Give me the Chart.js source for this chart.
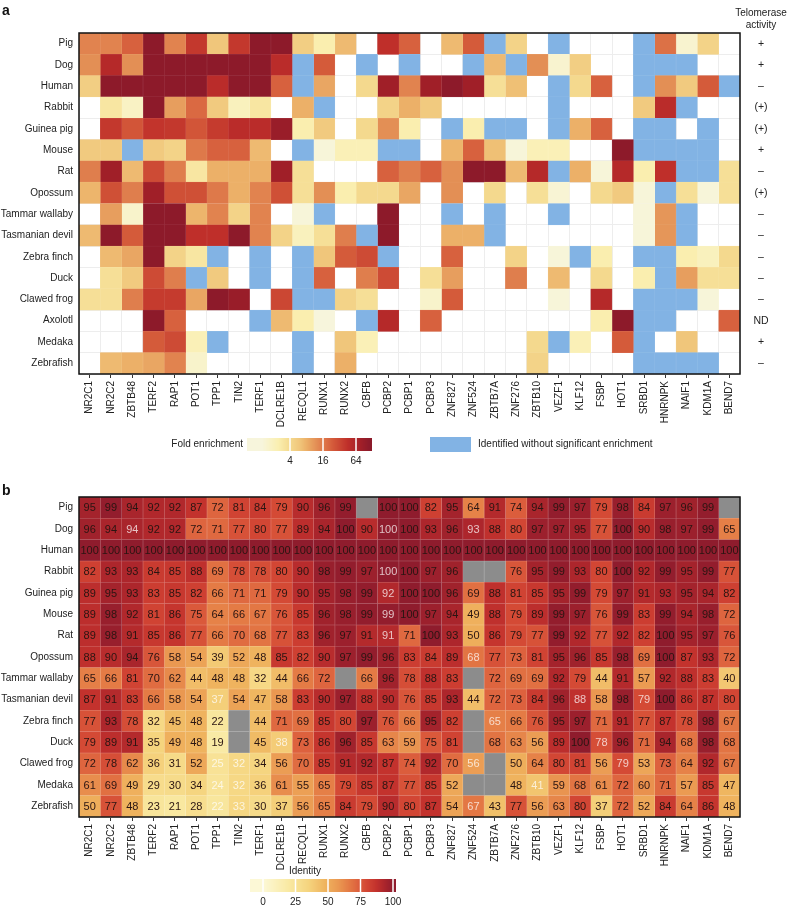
<!DOCTYPE html>
<html><head><meta charset="utf-8">
<script src="https://cdn.jsdelivr.net/npm/chart.js@4.4.1/dist/chart.umd.min.js"></script>
<style>
html,body{margin:0;padding:0;background:#fff;}
#wrap{position:relative;width:788px;height:910px;}
canvas{position:absolute;left:0;}
</style></head><body>
<div id="wrap">
<canvas id="ca" width="788" height="480" style="top:0px"></canvas>
<canvas id="cb" width="788" height="430" style="top:480px"></canvas>
</div>
<script>
// ---------- categories ----------
const proteins = ['NR2C1','NR2C2','ZBTB48','TERF2','RAP1','POT1','TPP1','TIN2','TERF1','DCLRE1B','RECQL1','RUNX1','RUNX2','CBFB','PCBP2','PCBP1','PCBP3','ZNF827','ZNF524','ZBTB7A','ZNF276','ZBTB10','VEZF1','KLF12','FSBP','HOT1','SRBD1','HNRNPK','NAIF1','KDM1A','BEND7'];
const speciesA = ['Pig','Dog','Human','Rabbit','Guinea pig','Mouse','Rat','Opossum','Tammar wallaby','Tasmanian devil','Zebra finch','Duck','Clawed frog','Axolotl','Medaka','Zebrafish'];
const speciesB = ['Pig','Dog','Human','Rabbit','Guinea pig','Mouse','Rat','Opossum','Tammar wallaby','Tasmanian devil','Zebra finch','Duck','Clawed frog','Medaka','Zebrafish'];
const telomeraseActivity = ['+','+','–','(+)','(+)','+','–','(+)','–','–','–','–','–','ND','+','–'];
const foldTicks = [4, 16, 64];
const identityTicks = [0, 25, 50, 75, 100];

// ---------- panel a: fold enrichment (null = not identified, 'ns' = identified without significant enrichment) ----------
const ns = 'ns';
const foldPig        = [14,14,22,110,14,40,6,40,110,110,5,2.5,7,null,45,22,null,7,24,ns,4.5,null,ns,null,null,null,ns,18,1.5,4.5,null];
const foldDog        = [12,55,12,110,110,110,110,110,110,50,ns,24,null,ns,null,ns,null,null,ns,7,ns,12,1.5,5,null,null,ns,ns,ns,null,null];
const foldHuman      = [5,110,110,110,110,110,50,110,110,22,ns,9,null,4,80,14,80,110,80,3.5,6.5,null,ns,4,22,null,ns,12,5.5,24,ns];
const foldRabbit     = [null,3,1.8,110,10,20,5.5,2,3,null,8,ns,null,null,4.5,8,5.5,null,null,null,null,null,ns,null,null,null,5.5,50,ns,null,null];
const foldGuineaPig  = [null,40,26,42,40,26,38,50,50,90,2.5,5.5,null,4,12,2.5,null,ns,2.5,ns,ns,null,ns,8,22,null,ns,ns,null,ns,null];
const foldMouse      = [5.5,5.5,ns,5.5,4.5,16,22,22,7,null,ns,1.3,2.2,2.2,ns,ns,null,7.5,22,6.5,1.3,2.2,2.2,null,null,110,ns,ns,ns,ns,null];
const foldRat        = [15,80,7,30,15,3,8,8,8,80,3.5,null,null,null,22,15,22,12,110,110,7,55,ns,8,1.3,55,2.5,45,ns,ns,3.5];
const foldOpossum    = [7.5,28,15,80,28,28,16,8,14,28,3.5,12,2.5,4,4,9,null,12,null,4,null,3.5,1.4,null,4,5.5,1.3,ns,3.5,1.3,3.5];
const foldTammar     = [null,10,1.6,110,110,7.5,14,4.5,14,null,1.3,ns,null,null,110,null,null,ns,null,ns,null,null,ns,null,null,null,1.3,11,ns,null,null];
const foldTasmanian  = [7,110,24,110,110,45,45,110,14,4.5,2,3.5,15,ns,110,null,null,8,8,ns,null,null,null,null,null,null,1.3,11,ns,null,null];
const foldZebraFinch = [null,7,9,110,4.5,3,ns,null,ns,null,ns,6,24,30,ns,null,null,22,null,null,4.5,null,1.3,ns,2.5,null,ns,ns,2.5,2,4];
const foldDuck       = [null,3.5,5.5,30,15,ns,5.5,null,ns,null,ns,22,null,15,30,null,3.5,10,null,null,15,null,7,null,4,null,2.5,ns,10,3.5,3.5];
const foldClawedFrog = [3.5,3.5,15,38,38,9,110,90,null,32,ns,ns,4.5,3.5,null,null,1.6,24,null,null,null,null,1.3,null,55,null,ns,ns,ns,1.3,null];
const foldAxolotl    = [null,null,null,110,22,null,null,null,ns,7,2.5,1.2,null,ns,55,null,22,null,null,null,null,null,null,null,2.5,110,ns,ns,null,null,22];
const foldMedaka     = [null,null,null,24,30,2.2,ns,null,null,null,ns,null,6,2.2,null,null,null,null,null,null,null,4,ns,2.2,null,24,ns,null,6,null,null];
const foldZebrafish  = [null,7,8,9,14,1.6,null,null,null,null,ns,null,8,null,null,null,null,null,null,null,null,4.5,null,null,null,null,ns,ns,ns,ns,null];

// ---------- panel b: identity (%), null = not available ----------
const idPig        = [95,99,94,92,92,87,72,81,84,79,90,96,99,null,100,100,82,95,64,91,74,94,99,97,79,98,84,97,96,99,null];
const idDog        = [96,94,94,92,92,72,71,77,80,77,89,94,100,90,100,100,93,96,93,88,80,97,97,95,77,100,90,98,97,99,65];
const idHuman      = [100,100,100,100,100,100,100,100,100,100,100,100,100,100,100,100,100,100,100,100,100,100,100,100,100,100,100,100,100,100,100];
const idRabbit     = [82,93,93,84,85,88,69,78,78,80,90,98,99,97,100,100,97,96,null,null,76,95,99,93,80,100,92,99,95,99,77];
const idGuineaPig  = [89,95,93,83,85,82,66,71,71,79,90,95,98,99,92,100,100,96,69,88,81,85,95,99,79,97,91,93,95,94,82];
const idMouse      = [89,98,92,81,86,75,64,66,67,76,85,96,98,99,99,100,97,94,49,88,79,89,99,97,76,99,83,99,94,98,72];
const idRat        = [89,98,91,85,86,77,66,70,68,77,83,96,97,91,91,71,100,93,50,86,79,77,99,92,77,92,82,100,95,97,76];
const idOpossum    = [88,90,94,76,58,54,39,52,48,85,82,90,97,99,96,83,84,89,68,77,73,81,95,96,85,98,69,100,87,93,72];
const idTammar     = [65,66,81,70,62,44,48,48,32,44,66,72,null,66,96,78,88,83,null,72,69,69,92,79,44,91,57,92,88,83,40];
const idTasmanian  = [87,91,83,66,58,54,37,54,47,58,83,90,97,88,90,76,85,93,44,72,73,84,96,88,58,98,79,100,86,87,80];
const idZebraFinch = [77,93,78,32,45,48,22,null,44,71,69,85,80,97,76,66,95,82,null,65,66,76,95,97,71,91,77,87,78,98,67];
const idDuck       = [79,89,91,35,49,48,19,null,45,38,73,86,96,85,63,59,75,81,null,68,63,56,89,100,78,96,71,94,68,98,68];
const idClawedFrog = [72,78,62,36,31,52,25,32,34,56,70,85,91,92,87,74,92,70,56,null,50,64,80,81,56,79,53,73,64,92,67];
const idMedaka     = [61,69,49,29,30,34,24,32,36,61,55,65,79,85,87,77,85,52,null,null,48,41,59,68,61,72,60,71,57,85,47];
const idZebrafish  = [50,77,48,23,21,28,22,33,30,37,56,65,84,79,90,80,87,54,67,43,77,56,63,80,37,72,52,84,64,86,48];

// cells whose number is printed in light type
const lightText = [['Dog','ZBTB48'],['Dog','PCBP2'],['Dog','ZNF524'],['Rabbit','PCBP2'],['Guinea pig','PCBP2'],['Mouse','PCBP2'],['Rat','PCBP2'],['Opossum','ZNF524'],['Tasmanian devil','TPP1'],['Tasmanian devil','KLF12'],['Tasmanian devil','SRBD1'],['Zebra finch','ZBTB7A'],['Duck','DCLRE1B'],['Duck','FSBP'],['Clawed frog','TPP1'],['Clawed frog','TIN2'],['Clawed frog','ZNF524'],['Clawed frog','HOT1'],['Medaka','TPP1'],['Medaka','TIN2'],['Medaka','ZBTB10'],['Zebrafish','TPP1'],['Zebrafish','TIN2'],['Zebrafish','ZNF524']];

const foldRows = [foldPig,foldDog,foldHuman,foldRabbit,foldGuineaPig,foldMouse,foldRat,foldOpossum,foldTammar,foldTasmanian,foldZebraFinch,foldDuck,foldClawedFrog,foldAxolotl,foldMedaka,foldZebrafish];
const idRows = [idPig,idDog,idHuman,idRabbit,idGuineaPig,idMouse,idRat,idOpossum,idTammar,idTasmanian,idZebraFinch,idDuck,idClawedFrog,idMedaka,idZebrafish];

// ---------- colour helpers ----------
const FONT = '"Liberation Sans", Arial, Helvetica, sans-serif';
const foldStops = [[0.3,'#f7f5dc'],[1.3,'#faefb0'],[2,'#f4d98e'],[2.6,'#f0c57a'],[3,'#ecb068'],[3.6,'#e38e55'],[4.2,'#dc6f45'],[4.6,'#d45a3a'],[5.5,'#bf2f2a'],[6.2,'#a52028'],[6.8,'#8c1a2a']];
const idStops = [[0,'#fcf8d6'],[20,'#f9e9a2'],[35,'#f5d47e'],[48,'#efb35e'],[58,'#ea9851'],[66,'#e47b45'],[72,'#de653f'],[80,'#d24634'],[87,'#c3322d'],[93,'#ad262c'],[100,'#8f1c2d']];
const BLUE = [130,179,228];
const GRAY = [140,140,140];
function hexToRgb(h){h=h.replace('#','');return [parseInt(h.substr(0,2),16),parseInt(h.substr(2,2),16),parseInt(h.substr(4,2),16)];}
function ramp(stops,t){
  if(t<=stops[0][0]) return hexToRgb(stops[0][1]);
  for(let k=1;k<stops.length;k++){
    if(t<=stops[k][0]){
      const a=hexToRgb(stops[k-1][1]), b=hexToRgb(stops[k][1]);
      const f=(t-stops[k-1][0])/(stops[k][0]-stops[k-1][0]);
      return a.map((v,i)=>Math.round(v+(b[i]-v)*f));
    }
  }
  return hexToRgb(stops[stops.length-1][1]);
}
const rgb = a => `rgb(${a[0]},${a[1]},${a[2]})`;
const lighten = (a,f) => a.map(v => Math.round(v+(255-v)*f));
const foldRgb = v => v===null ? null : (v===ns ? BLUE : ramp(foldStops, Math.log2(v)));
const idRgb = v => v===null ? GRAY : ramp(idStops, v);

Chart.defaults.font.family = FONT;
Chart.defaults.font.size = 10;
Chart.defaults.color = '#222';

// ---------- plugins ----------
const framePlugin = {
  id:'frame',
  afterDatasetsDraw(chart){
    const {ctx, chartArea:a} = chart;
    ctx.save(); ctx.lineWidth=1.5; ctx.strokeStyle='#111';
    ctx.strokeRect(a.left, a.top, a.right-a.left, a.bottom-a.top);
    ctx.restore();
  }
};
function letterPlugin(letter, y){
  return { id:'letter'+letter, afterDraw(chart){ const c=chart.ctx; c.save(); c.font='bold 14px '+FONT; c.fillStyle='#111'; c.textBaseline='alphabetic'; c.fillText(letter, 2, y); c.restore(); } };
}
const telomerasePlugin = {
  id:'telomerase',
  afterDraw(chart){
    const c=chart.ctx, ys=chart.scales.y;
    c.save(); c.fillStyle='#222'; c.textAlign='center'; c.textBaseline='middle';
    c.font='10px '+FONT;
    c.fillText('Telomerase', 761, 13);
    c.fillText('activity', 761, 25);
    c.font='10.5px '+FONT;
    telomeraseActivity.forEach((t,i)=>c.fillText(t, 761, ys.getPixelForValue(i)));
    c.restore();
  }
};
const legendAPlugin = {
  id:'legendA',
  afterDraw(chart){
    const c=chart.ctx; c.save();
    const x0=247, x1=372, y0=438, h=13;
    const px = lv => 290 + (lv-2)*16.5;
    for(let x=x0;x<x1;x++){ const lv=(x+0.5-290)/16.5+2; c.fillStyle=rgb(ramp(foldStops,lv)); c.fillRect(x,y0,1,h); }
    c.strokeStyle='#fff'; c.lineWidth=1.5;
    foldTicks.forEach(t=>{ const x=px(Math.log2(t)); c.beginPath(); c.moveTo(x,y0); c.lineTo(x,y0+h); c.stroke(); });
    c.fillStyle='#222'; c.font='10px '+FONT; c.textBaseline='middle';
    c.textAlign='center'; foldTicks.forEach(t=>c.fillText(String(t), px(Math.log2(t)), y0+h+10));
    c.textAlign='right'; c.fillText('Fold enrichment', x0-4, y0+h/2);
    c.fillStyle=rgb(BLUE); c.fillRect(430, y0-1, 41, h+2);
    c.fillStyle='#222'; c.textAlign='left'; c.fillText('Identified without significant enrichment', 478, y0+h/2);
    c.restore();
  }
};
const legendBPlugin = {
  id:'legendB',
  afterDraw(chart){
    const c=chart.ctx; c.save();
    const x0=250, x1=396, y0=399, h=13;
    const px = v => 263 + v*1.3;
    for(let x=x0;x<x1;x++){ const v=(x+0.5-263)/1.3; c.fillStyle=rgb(ramp(idStops,v)); c.fillRect(x,y0,1,h); }
    c.strokeStyle='#fff'; c.lineWidth=1.5;
    identityTicks.forEach(t=>{ const x=px(t); c.beginPath(); c.moveTo(x,y0); c.lineTo(x,y0+h); c.stroke(); });
    c.fillStyle='#222'; c.font='10px '+FONT; c.textBaseline='middle'; c.textAlign='center';
    identityTicks.forEach(t=>c.fillText(String(t), px(t), y0+h+10));
    c.fillText('Identity', 305, y0-8);
    c.restore();
  }
};
const numbersPlugin = {
  id:'numbers',
  afterDatasetsDraw(chart){
    const c=chart.ctx, xs=chart.scales.x, ys=chart.scales.y;
    c.save(); c.font='11px '+FONT; c.textAlign='center'; c.textBaseline='middle';
    idRows.forEach((row,i)=>{
      row.forEach((v,j)=>{
        if(v===null) return;
        const light = lightText.some(p=>p[0]===speciesB[i] && p[1]===proteins[j]);
        c.fillStyle = light ? 'rgba(255,255,255,0.72)' : '#2a1512';
        c.fillText(String(v), xs.getPixelForValue(j+0.5), ys.getPixelForValue(i)+0.5);
      });
    });
    c.restore();
  }
};

// ---------- heatmap builder (stacked horizontal bars, one segment per cell) ----------
function makeHeatmap(canvasId, rowLabels, rows, cellRgb, cfg, extraPlugins){
  const datasets = proteins.map((p,j)=>{
    const cols = rows.map(r=>cellRgb(r[j]));
    return {
      label:p,
      data: rowLabels.map(()=>1),
      backgroundColor: cols.map(cc=>cc?rgb(cc):'rgba(0,0,0,0)'),
      borderColor: cols.map(cc=>cc?rgb(lighten(cc,cfg.borderLighten)):'rgba(0,0,0,0)'),
      borderWidth: cols.map(cc=>cc?cfg.borderWidth:0),
      borderSkipped:false,
      barPercentage:1, categoryPercentage:1
    };
  });
  return new Chart(document.getElementById(canvasId), {
    type:'bar',
    data:{labels:rowLabels, datasets},
    options:{
      indexAxis:'y', responsive:false, animation:false, devicePixelRatio:1,
      layout:{padding:{top:cfg.padTop, right:48, left:0, bottom:0}},
      plugins:{legend:{display:false}, tooltip:{enabled:false}},
      scales:{
        x:{type:'linear', stacked:true, min:0, max:proteins.length, position:'bottom',
           afterBuildTicks:s=>{ s.ticks = proteins.map((_,i)=>({value:i+0.5})); },
           afterFit:s=>{ s.height = cfg.xHeight; },
           ticks:{autoSkip:false, minRotation:90, maxRotation:90, padding:3, color:'#222', font:{size:10}, callback:v=>proteins[Math.floor(v)]},
           grid:{drawOnChartArea:false, drawTicks:true, tickLength:4, color:'#333', lineWidth:1},
           border:{display:false}},
        xg:{type:'linear', position:'top', min:0, max:proteins.length,
           afterBuildTicks:s=>{ s.ticks = proteins.map((_,i)=>({value:i})).concat([{value:proteins.length}]); },
           afterFit:s=>{ s.height = 0; },
           ticks:{display:false},
           grid:{color:cfg.gridColor, drawTicks:false, lineWidth:1},
           border:{display:false}},
        y:{type:'category', stacked:true, offset:true,
           afterFit:s=>{ s.width = 79; },
           ticks:{padding:6, color:'#222', font:{size:10}, autoSkip:false},
           grid:{offset:true, color:cfg.gridColor, drawTicks:false, lineWidth:1},
           border:{display:false}}
      }
    },
    plugins:[framePlugin].concat(extraPlugins)
  });
}

makeHeatmap('ca', speciesA, foldRows, foldRgb,
  {padTop:33, xHeight:106, borderLighten:0.12, borderWidth:0.5, gridColor:'#ededed'},
  [letterPlugin('a',15), telomerasePlugin, legendAPlugin]);

makeHeatmap('cb', speciesB, idRows, idRgb,
  {padTop:17, xHeight:93, borderLighten:0.3, borderWidth:0.6, gridColor:'#ededed'},
  [letterPlugin('b',15), numbersPlugin, legendBPlugin]);
</script>
</body></html>
